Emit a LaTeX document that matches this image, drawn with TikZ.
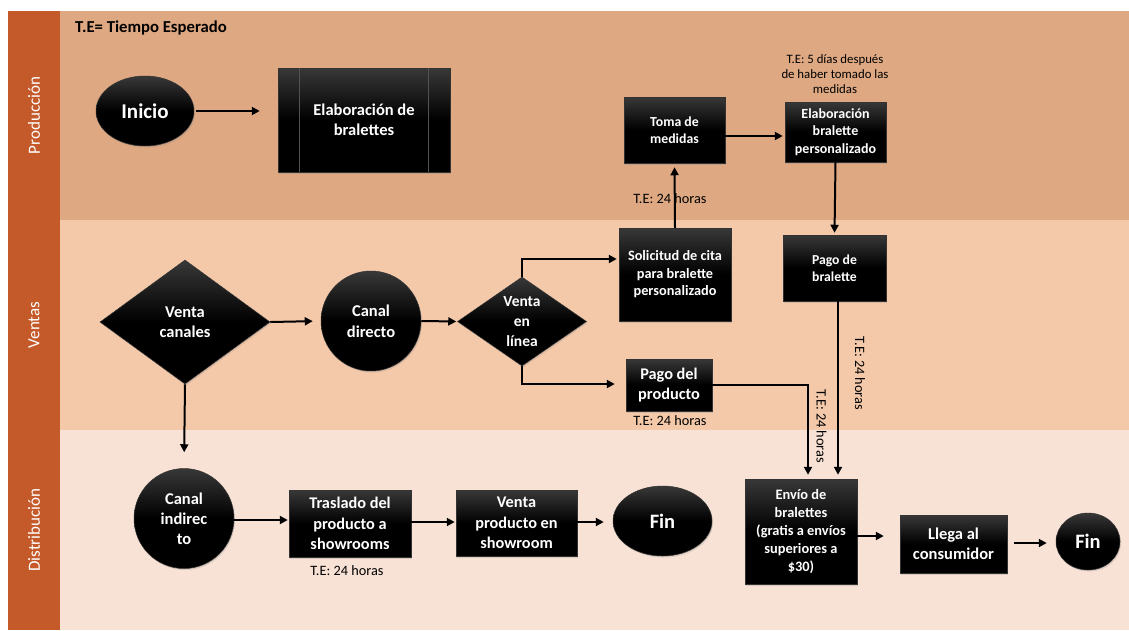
\documentclass[tikz,border=0pt]{standalone}
\usepackage{fontspec}
\setmainfont{Carlito}
\usetikzlibrary{shapes.geometric,arrows.meta,shadows}

\definecolor{laneband}{HTML}{C4592A}
\definecolor{laneprod}{HTML}{DEA882}
\definecolor{laneventa}{HTML}{F3C9AA}
\definecolor{lanedist}{HTML}{F8E2D5}

\newcommand\fsz[2]{\fontsize{#1}{#2}\selectfont}

\tikzset{
  blk/.style={draw=black!80, line width=0.5pt,
    top color=black!78, bottom color=black, middle color=black,
    text=white, align=center, inner sep=0pt,
    font=\bfseries\fsz{16.3}{20},
    drop shadow={opacity=0.25, shadow xshift=1pt, shadow yshift=-1.5pt}},
  procbox/.style={blk, rectangle},
  roundnode/.style={blk, ellipse},
  circnode/.style={blk, circle},
  decision/.style={blk, diamond},
  note/.style={text=black, font=\fsz{14.3}{17}, inner sep=0pt, align=center},
  lanelabel/.style={text=white, font=\fsz{17}{20}, rotate=90, inner sep=0pt},
  arr/.style={line width=2pt, -{Triangle[length=8pt,width=8pt]}},
  sideline/.style={black!68, line width=0.8pt},
}

\begin{document}
\begin{tikzpicture}[x=1pt,y=-1pt]
\useasboundingbox (0,0) rectangle (1129,630);
\fill[white] (0,0) rectangle (1129,630);

% swim lanes
\fill[laneprod]  (60,11)  rectangle (1129,220);
\fill[laneventa] (60,220) rectangle (1129,430);
\fill[lanedist]  (60,430) rectangle (1129,630);
\fill[laneband]  (8,11)   rectangle (60,630);
\node[lanelabel] (lprod)  at (34,115.5) {Producción};
\node[lanelabel] (lventa) at (34,325)   {Ventas};
\node[lanelabel] (ldist)  at (34,530)   {Distribución};

\node[anchor=west, inner sep=0pt, font=\bfseries\fsz{16.7}{20}] (legend) at (75,28) {T.E= Tiempo Esperado};

% Producción
\node[roundnode, minimum width=98pt, minimum height=70pt, font=\bfseries\fsz{21}{25}] (inicio) at (145,111) {Inicio};
\node[procbox, minimum width=172pt, minimum height=104pt, font=\bfseries\fsz{16.5}{20}] (elab) at (364,120) {Elaboración de\\bralettes};
\draw[sideline] ([xshift=22pt]elab.north west) -- ([xshift=22pt]elab.south west);
\draw[sideline] ([xshift=-22pt]elab.north east) -- ([xshift=-22pt]elab.south east);
\node[procbox, minimum width=101pt, minimum height=66pt, font=\bfseries\fsz{13.8}{17}] (toma) at (674.5,130) {Toma de\\medidas};
\node[procbox, minimum width=101pt, minimum height=60pt, font=\bfseries\fsz{14}{17.5}] (elabp) at (835.5,132) {Elaboración\\bralette\\personalizado};
\node[note, font=\fsz{12.8}{15}] (te5) at (835,74) {T.E: 5 días después\\de haber tomado las\\medidas};

% Ventas
\node[decision, minimum width=170pt, minimum height=124pt, font=\bfseries\fsz{16.5}{20}] (vcan) at (185,322) {Venta\\canales};
\node[circnode, minimum size=100pt, font=\bfseries\fsz{16.5}{21}] (canald) at (371,321) {Canal\\directo};
\node[decision, minimum width=129pt, minimum height=89pt, font=\bfseries\fsz{15.5}{20}] (vlin) at (522,321.5) {Venta\\en\\línea};
\node[procbox, minimum width=112pt, minimum height=93pt, font=\bfseries\fsz{14.3}{17.5}] (soli) at (675,274.5) {Solicitud de cita\\para bralette\\personalizado};
\node[procbox, minimum width=103pt, minimum height=66pt, font=\bfseries\fsz{13.7}{17}] (pagob) at (834.5,268) {Pago de\\bralette};
\node[procbox, minimum width=86pt, minimum height=52pt] (pagop) at (669,385) {Pago del\\producto};

% Distribución
\node[circnode, minimum size=100pt, font=\bfseries\fsz{16.5}{20}] (canali) at (184,518.5) {Canal\\indirec\\to};
\node[procbox, minimum width=122pt, minimum height=67pt, font=\bfseries\fsz{16.3}{20.5}] (tras) at (350,523.5) {Traslado del\\producto a\\showrooms};
\node[procbox, minimum width=121pt, minimum height=66pt, font=\bfseries\fsz{16.3}{20.5}] (vshow) at (516.5,523) {Venta\\producto en\\showroom};
\node[roundnode, minimum width=99pt, minimum height=70pt, font=\bfseries\fsz{20.5}{24}] (fin1) at (662.5,521) {Fin};
\node[procbox, minimum width=112pt, minimum height=105pt, font=\bfseries\fsz{14.4}{17.8}] (envio) at (801,531.5) {Envío de\\bralettes\\(gratis a envíos\\superiores a\\\$30)};
\node[procbox, minimum width=107pt, minimum height=58pt, font=\bfseries\fsz{16.5}{19.5}] (llega) at (953.5,544) {Llega al\\consumidor};
\node[roundnode, minimum width=64pt, minimum height=57pt, font=\bfseries\fsz{20.5}{24}] (fin2) at (1088,541.5) {Fin};

% waiting times
\node[note] (te24a) at (670,199) {T.E: 24 horas};
\node[note] (te24b) at (670,421) {T.E: 24 horas};
\node[note] (te24e) at (347,570.5) {T.E: 24 horas};
\node[note, rotate=-90] (te24c) at (821.5,426.5) {T.E: 24 horas};
\node[note, rotate=-90] (te24d) at (860,373.5) {T.E: 24 horas};

% connectors
\draw[arr, shorten <=2pt, shorten >=18pt] (inicio.east) -- (inicio.east -| elab.west);
\draw[arr, shorten >=4pt] (soli.north) -- (toma.south);
\draw[arr, shorten >=2pt] ([yshift=-6pt]toma.east) -- ([yshift=-6pt]toma.east -| elabp.west);
\draw[arr, shorten >=2pt] (elabp.south) -- (pagob.north);

\draw[arr, shorten >=8pt] (vcan.east) -- (canald.west);
\draw[arr, shorten >=16pt] (vcan.south) -- (canali.north);
\draw[arr, shorten >=1pt] (canald.east) -- (vlin.west);
\draw[arr, shorten >=2pt] (vlin.north) |- ([yshift=15.5pt]soli.west);
\draw[arr, shorten >=11pt] (vlin.south) |- ([yshift=1pt]pagop.west);
\draw[arr, shorten >=4pt] (pagop.east) -| ([xshift=7pt]envio.north);
\draw[arr, shorten >=4pt] ([xshift=3.5pt]pagob.south) -- ([xshift=37pt]envio.north);

\draw[arr, shorten >=1pt] ([yshift=-1.5pt]canali.east) -- ([yshift=-1.5pt]canali.east -| tras.west);
\draw[arr, shorten >=1pt] ([yshift=1.5pt]tras.east) -- ([yshift=1.5pt]tras.east -| vshow.west);
\draw[arr, shorten >=9pt] ([yshift=1pt]vshow.east) -- ([yshift=1pt]vshow.east -| fin1.west);
\draw[arr, shorten >=16pt] ([yshift=-4.5pt]envio.east) -- ([yshift=-4.5pt]envio.east -| llega.west);
\draw[arr, shorten <=7pt, shorten >=9pt] ([yshift=1pt]llega.east) -- ([yshift=1pt]llega.east -| fin2.west);
\end{tikzpicture}
\end{document}
